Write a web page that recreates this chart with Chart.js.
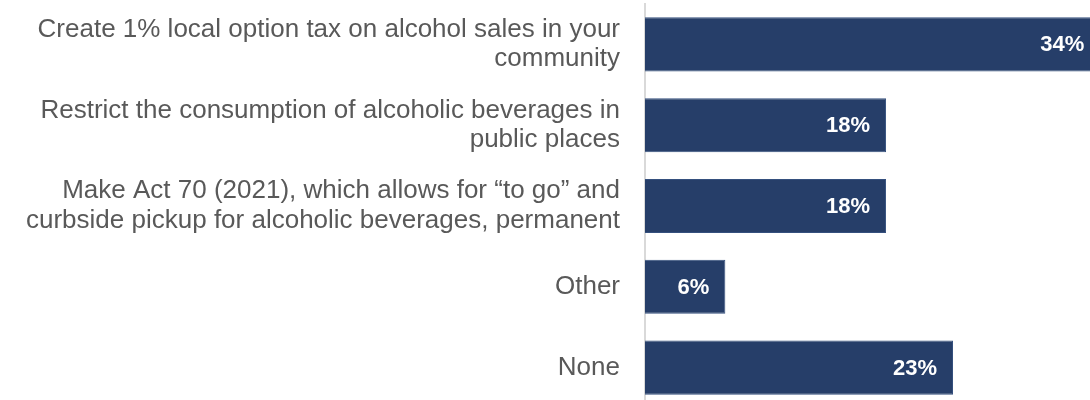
<!DOCTYPE html>
<html>
<head>
<meta charset="utf-8">
<script src="https://cdn.jsdelivr.net/npm/chart.js@4/dist/chart.umd.min.js"></script>
<style>
  html, body { margin: 0; padding: 0; background: #fff; overflow: hidden; }
  #wrap { position: relative; width: 1090px; height: 408px; }
</style>
</head>
<body>
<div id="wrap"><canvas id="policyChart"></canvas></div>
<script>
// Survey answers, one bar per option (multi-line labels as arrays)
var categories = [
    ['Create 1% local option tax on alcohol sales in your', 'community'],
    ['Restrict the consumption of alcoholic beverages in', 'public places'],
    ['Make Act 70 (2021), which allows for \u201cto go\u201d and', 'curbside pickup for alcoholic beverages, permanent'],
    'Other',
    'None'
];
var shares = [34, 18, 18, 6, 23];

var barColor = '#263E69';
var labelColor = '#595959';

// Percent labels inside the bar ends
var valueLabels = {
    id: 'valueLabels',
    afterDatasetsDraw: function(chart) {
        var ctx = chart.ctx;
        var meta = chart.getDatasetMeta(0);
        ctx.save();
        ctx.font = 'bold 22px "Liberation Sans", Arial, sans-serif';
        ctx.fillStyle = '#ffffff';
        ctx.textAlign = 'right';
        ctx.textBaseline = 'middle';
        meta.data.forEach(function(bar, i) {
            ctx.fillText(shares[i] + '%', bar.x - 16, bar.y + 1);
        });
        ctx.restore();
    }
};

var ctx = document.getElementById('policyChart').getContext('2d');
new Chart(ctx, {
    type: 'bar',
    data: {
        labels: categories,
        datasets: [{
            data: shares,
            backgroundColor: barColor,
            borderColor: '#35507e',
            borderWidth: 1,
            barPercentage: 0.67,
            categoryPercentage: 1.0
        }]
    },
    options: {
        indexAxis: 'y',
        responsive: true,
        maintainAspectRatio: false,
        animation: false,
        layout: { padding: { top: 4, right: 0, bottom: 0, left: 0 } },
        scales: {
            x: {
                display: false,
                min: 0,
                max: 33.23
            },
            y: {
                afterFit: function(scale) {
                    scale.width = 645;
                    scale.paddingTop = 0;
                    scale.paddingBottom = 0;
                },
                grid: { display: false, drawTicks: false },
                border: { display: true, color: '#d9d9d9', width: 2 },
                ticks: {
                    color: labelColor,
                    padding: 25,
                    font: { family: '"Liberation Sans", Arial, sans-serif', size: 26, lineHeight: 1.13 }
                }
            }
        },
        plugins: {
            legend: { display: false },
            tooltip: { enabled: false }
        }
    },
    plugins: [valueLabels]
});
</script>
</body>
</html>
